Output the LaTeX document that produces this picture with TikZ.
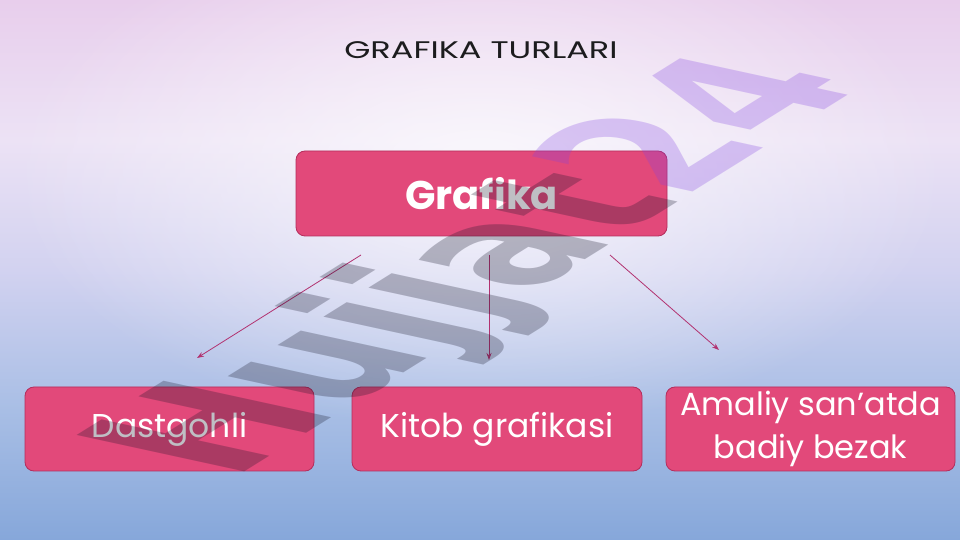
\documentclass[tikz,border=0pt]{standalone}
\usepackage{fontspec}
\setmainfont{Poppins}
\newfontfamily\wmfont{DejaVu Sans}
\usetikzlibrary{arrows.meta,fadings,shadings}

\definecolor{boxfill}{RGB}{226,73,122}
\definecolor{boxline}{RGB}{180,45,92}
\definecolor{arrowcol}{RGB}{178,50,112}
\definecolor{bgTop}{RGB}{232,206,236}
\definecolor{bgUp}{RGB}{236,226,245}
\definecolor{bgMid}{RGB}{210,210,240}
\definecolor{bgLow}{RGB}{168,190,229}
\definecolor{bgBot}{RGB}{134,167,218}
\definecolor{titlecol}{RGB}{28,28,30}
\definecolor{wmgray}{RGB}{20,20,40}
\definecolor{wmpurple}{RGB}{130,67,224}

\pgfdeclareverticalshading{bgshade}{100bp}{color(0bp)=(bgBot); color(25bp)=(bgBot); color(37bp)=(bgLow); color(50bp)=(bgMid); color(62bp)=(bgUp); color(75bp)=(bgTop); color(100bp)=(bgTop)}
\tikzfading[name=glowfade, inner color=transparent!25, outer color=transparent!100]

\tikzset{
  box/.style={draw=boxline, line width=0.8pt, fill=boxfill, rounded corners=9pt,
    text=white, inner sep=0pt, align=center},
  conn/.style={draw=arrowcol, line width=0.8pt, -{Stealth[length=7pt,width=5pt]}},
}

\begin{document}
\begin{tikzpicture}[x=1pt,y=1pt]
  % background
  \shade[shading=bgshade] (0,0) rectangle (960,540);
  \fill[white, path fading=glowfade] (480,370) ellipse (470pt and 260pt);

  % title
  \node[anchor=base, text=titlecol, font=\fontsize{24}{28}\selectfont, inner sep=0pt] (title) at (481,481)
    {\scalebox{1.4}[1]{GRAFIKA TURLARI}};

  % boxes
  \node[box, minimum width=371, minimum height=85, font=\fontsize{40}{48}\selectfont\bfseries] (g) at (481.5,346.5) {Grafika};
  \node[box, minimum width=289, minimum height=84, font=\fontsize{33}{42}\selectfont] (d) at (169.5,111) {Dastgohli};
  \node[box, minimum width=290, minimum height=84, font=\fontsize{33}{42}\selectfont] (k) at (497,111) {Kitob grafikasi};
  \node[box, minimum width=289, minimum height=84, font=\fontsize{32}{43}\selectfont] (a) at (810.5,111) {Amaliy san’atda\\badiy bezak};

  % connectors
  \coordinate (l1) at (361,285); \coordinate (l2) at (197,182);
  \coordinate (m1) at (489,285); \coordinate (m2) at (489,180);
  \coordinate (r1) at (610,285); \coordinate (r2) at (719,190);
  \draw[conn] (l1) -- (l2);
  \draw[conn] (m1) -- (m2);
  \draw[conn] (r1) -- (r2);

  % watermark
  \begin{scope}[shift={(232,60)}]
    \node[cm={1.33,0.83,-2.30,0.50,(0,0)}, transform shape, anchor=base west, inner sep=0pt,
      font=\wmfont\bfseries\fontsize{100}{100}\selectfont, text opacity=0.27] (wm) at (0,0)
      {\color{wmgray}Hujjat\color{wmpurple}24};
  \end{scope}

  \pgfresetboundingbox
  \path[use as bounding box] (0,0) rectangle (960,540);
\end{tikzpicture}
\end{document}
